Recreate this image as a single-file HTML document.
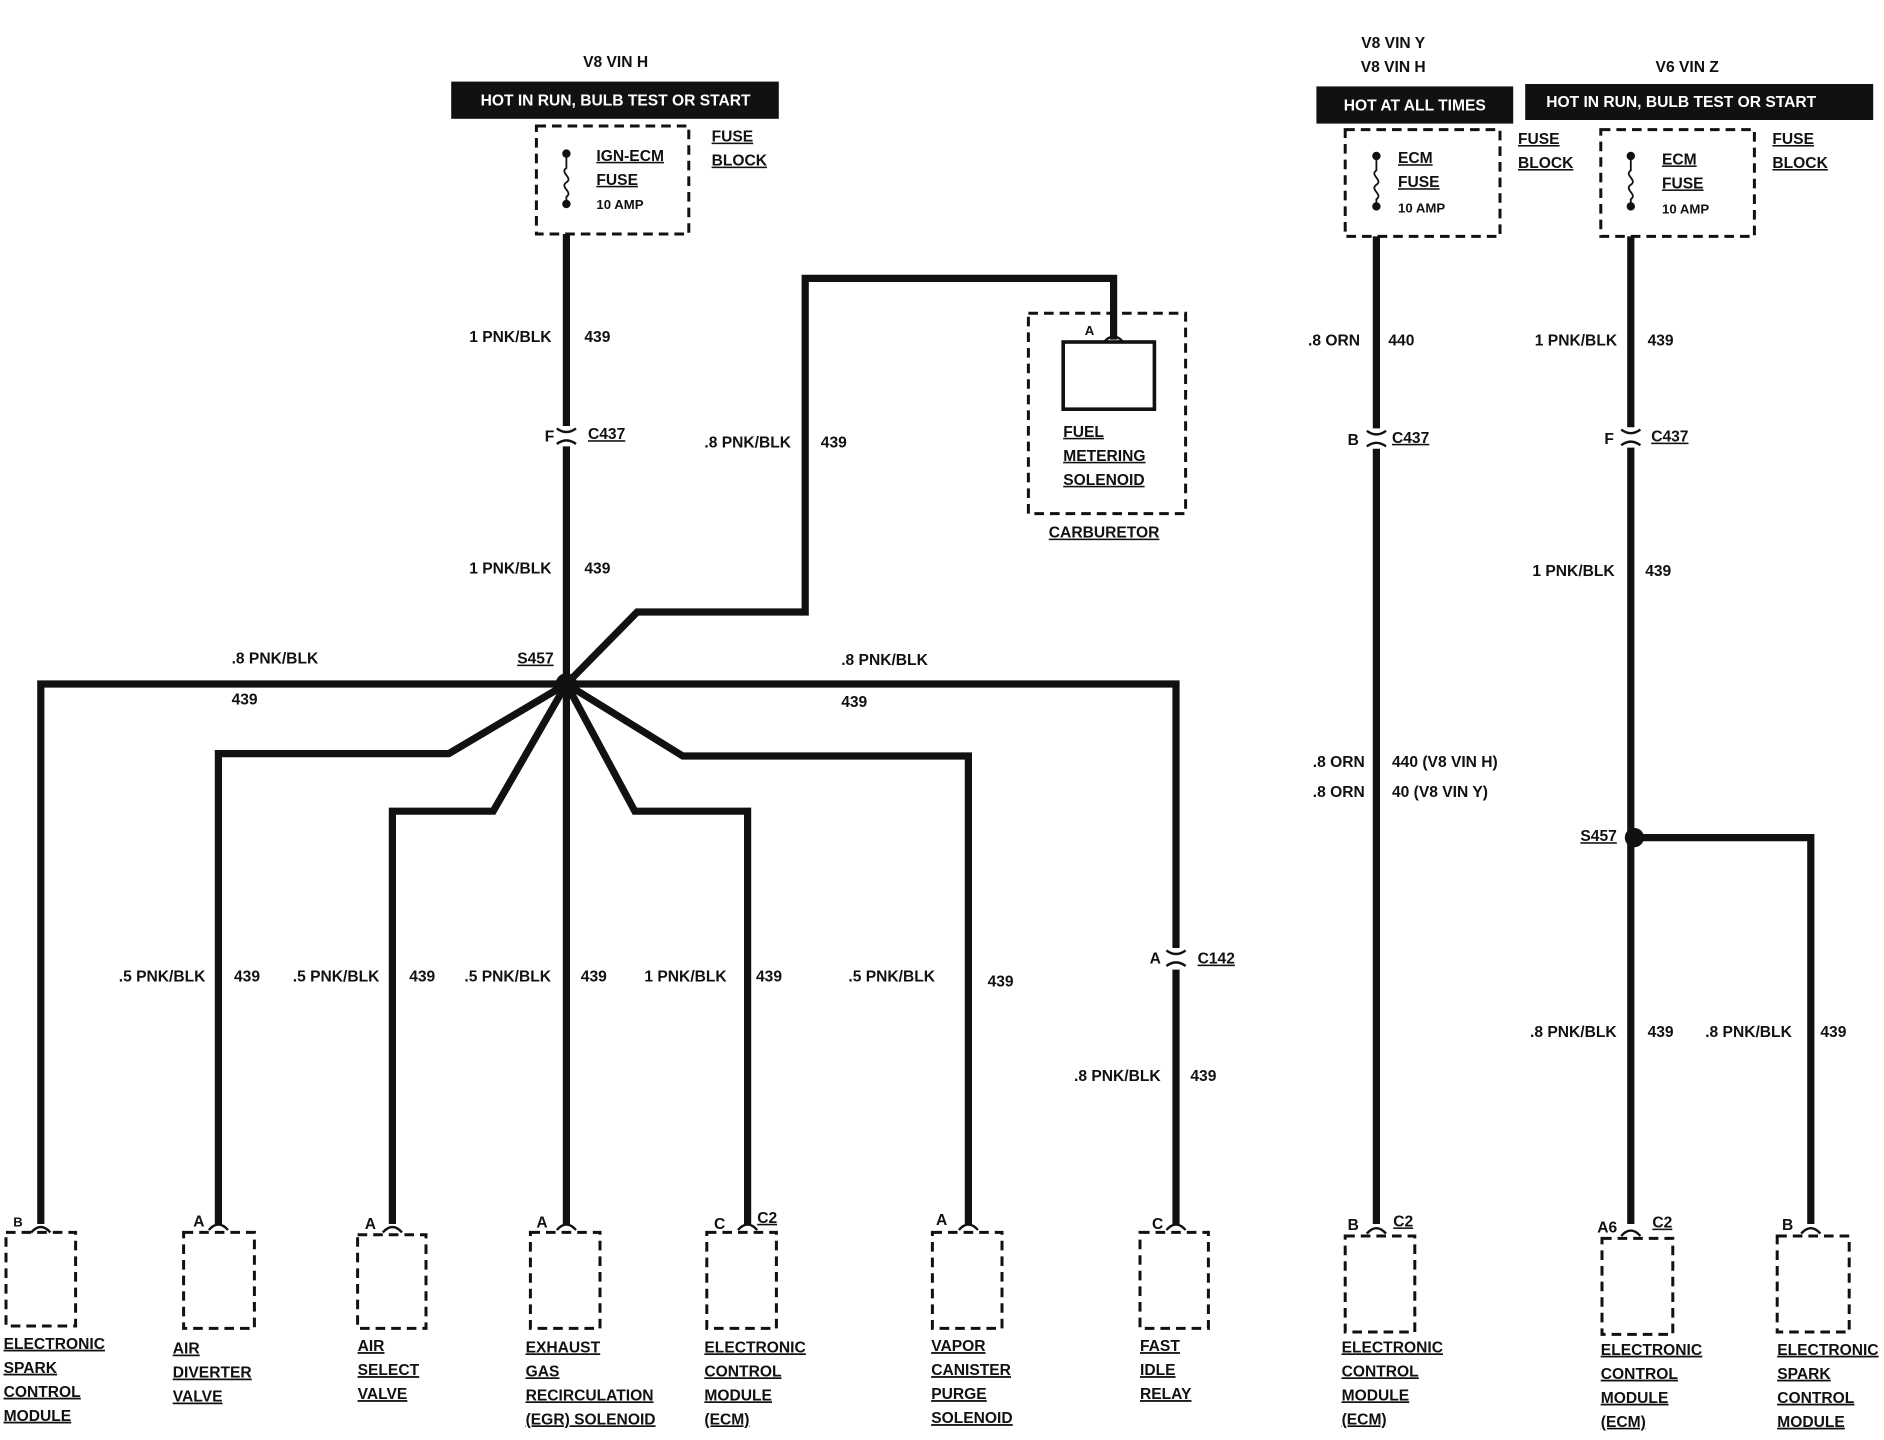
<!DOCTYPE html>
<html><head><meta charset="utf-8"><style>
html,body{margin:0;padding:0;background:#fff;}
svg{display:block}
text{font-family:"Liberation Sans",sans-serif;font-weight:bold;font-size:13px;fill:#111;}
.u{text-decoration:underline}
.w{fill:#fff;font-size:13px}
.s{font-size:11px}
</style></head><body>
<svg width="1884" height="1440" viewBox="0 0 1568 1200" xmlns="http://www.w3.org/2000/svg">
<g stroke="#111" fill="none">
<!-- dashed boxes -->
<g stroke-width="2.5" stroke-dasharray="8,5">
<rect x="446" y="105" width="127" height="90"/>
<rect x="1120" y="108" width="129" height="89"/>
<rect x="1333" y="108" width="128" height="89"/>
<rect x="856" y="261" width="131" height="167"/>
<rect x="4" y="1027" width="58" height="78"/>
<rect x="152" y="1027" width="59" height="80"/>
<rect x="297" y="1029" width="57" height="78"/>
<rect x="441" y="1027" width="58" height="80"/>
<rect x="588" y="1027" width="58" height="80"/>
<rect x="776" y="1027" width="58" height="80"/>
<rect x="949" y="1027" width="57" height="80"/>
<rect x="1120" y="1030" width="58" height="80"/>
<rect x="1334" y="1032" width="59" height="80"/>
<rect x="1480" y="1030" width="60" height="80"/>
</g>
<rect x="885" y="285" width="76" height="56" stroke-width="3"/>
<!-- fuses -->
<g stroke-width="1.5">
<path d="M471 128 v12 c-6 4 6 8 0 12 c-6 4 6 8 0 12 v6"/>
<path d="M1146 130 v12 c-6 4 6 8 0 12 c-6 4 6 8 0 12 v6"/>
<path d="M1358 130 v12 c-6 4 6 8 0 12 c-6 4 6 8 0 12 v6"/>
</g>
<!-- wires -->
<g stroke-width="6" stroke-linejoin="miter">
<path d="M471 195 V355 M471 372 V570"/>
<path d="M471 570 L530 510 H670 V232 H927 V283"/>
<path d="M471 570 H33 V1020"/>
<path d="M471 570 H979 V790 M979 808 V1020"/>
<path d="M471 570 L373 628 H181 V1020"/>
<path d="M471 570 L410 676 H326 V1020"/>
<path d="M471 570 V1020"/>
<path d="M471 570 L528 676 H622 V1020"/>
<path d="M471 570 L568 630 H806 V1020"/>
<path d="M1146 197 V357 M1146 374 V1020"/>
<path d="M1358 197 V356 M1358 373 V1020"/>
<path d="M1358 698 H1508 V1020"/>
</g>
<!-- connector symbols -->
<g stroke-width="2">
<path d="M463 357 q8 6 16 0 M463 370 q8 -6 16 0"/>
<path d="M1138 359 q8 6 16 0 M1138 372 q8 -6 16 0"/>
<path d="M1350 358 q8 6 16 0 M1350 371 q8 -6 16 0"/>
<path d="M971 792 q8 6 16 0 M971 805 q8 -6 16 0"/>
<path d="M25 1027 q8 -9 16 0 M173 1025 q8 -9 16 0 M318 1027 q8 -9 16 0 M463 1025 q8 -9 16 0 M614 1025 q8 -9 16 0 M798 1025 q8 -9 16 0 M971 1025 q8 -9 16 0 M1138 1028 q8 -9 16 0 M1350 1030 q8 -9 16 0 M1500 1028 q8 -9 16 0 M919 285 q8 -9 16 0"/>
</g>
</g>
<g fill="#111">
<circle cx="471" cy="570" r="9"/>
<circle cx="1361" cy="698" r="8"/>
<circle cx="471" cy="128" r="3.5"/><circle cx="471" cy="170" r="3.5"/>
<circle cx="1146" cy="130" r="3.5"/><circle cx="1146" cy="172" r="3.5"/>
<circle cx="1358" cy="130" r="3.5"/><circle cx="1358" cy="172" r="3.5"/>
<rect x="375" y="68" width="273" height="31"/>
<rect x="1096" y="72" width="164" height="31"/>
<rect x="1270" y="70" width="290" height="30"/>
</g>
<text x="512" y="56" text-anchor="middle">V8 VIN H</text>
<text x="512" y="88" text-anchor="middle" class="w">HOT IN RUN, BULB TEST OR START</text>
<text x="1160" y="40" text-anchor="middle">V8 VIN Y</text>
<text x="1160" y="60" text-anchor="middle">V8 VIN H</text>
<text x="1178" y="92" text-anchor="middle" class="w">HOT AT ALL TIMES</text>
<text x="1405" y="60" text-anchor="middle">V6 VIN Z</text>
<text x="1400" y="89" text-anchor="middle" class="w">HOT IN RUN, BULB TEST OR START</text>
<text x="496" y="134" class="u">IGN-ECM</text><text x="496" y="154" class="u">FUSE</text><text x="496" y="174" class="s">10 AMP</text>
<text x="592" y="118" class="u">FUSE</text><text x="592" y="138" class="u">BLOCK</text>
<text x="1164" y="136" class="u">ECM</text><text x="1164" y="156" class="u">FUSE</text><text x="1164" y="177" class="s">10 AMP</text>
<text x="1264" y="120" class="u">FUSE</text><text x="1264" y="140" class="u">BLOCK</text>
<text x="1384" y="137" class="u">ECM</text><text x="1384" y="157" class="u">FUSE</text><text x="1384" y="178" class="s">10 AMP</text>
<text x="1476" y="120" class="u">FUSE</text><text x="1476" y="140" class="u">BLOCK</text>
<text x="390" y="285">1 PNK/BLK</text><text x="486" y="285">439</text>
<text x="453" y="368">F</text><text x="489" y="366" class="u">C437</text>
<text x="390" y="478">1 PNK/BLK</text><text x="486" y="478">439</text>
<text x="586" y="373">.8 PNK/BLK</text><text x="683" y="373">439</text>
<text x="903" y="279" class="s">A</text>
<text x="885" y="364" class="u">FUEL</text><text x="885" y="384" class="u">METERING</text><text x="885" y="404" class="u">SOLENOID</text>
<text x="873" y="448" class="u">CARBURETOR</text>
<text x="430" y="553" class="u">S457</text>
<text x="192" y="553">.8 PNK/BLK</text><text x="192" y="587">439</text>
<text x="700" y="554">.8 PNK/BLK</text><text x="700" y="589">439</text>
<text x="98" y="818">.5 PNK/BLK</text><text x="194" y="818">439</text>
<text x="243" y="818">.5 PNK/BLK</text><text x="340" y="818">439</text>
<text x="386" y="818">.5 PNK/BLK</text><text x="483" y="818">439</text>
<text x="536" y="818">1 PNK/BLK</text><text x="629" y="818">439</text>
<text x="706" y="818">.5 PNK/BLK</text><text x="822" y="822">439</text>
<text x="957" y="803">A</text><text x="997" y="803" class="u">C142</text>
<text x="894" y="901">.8 PNK/BLK</text><text x="991" y="901">439</text>
<text x="1089" y="288">.8 ORN</text><text x="1156" y="288">440</text>
<text x="1122" y="371">B</text><text x="1159" y="369" class="u">C437</text>
<text x="1093" y="639">.8 ORN</text><text x="1159" y="639">440 (V8 VIN H)</text>
<text x="1093" y="664">.8 ORN</text><text x="1159" y="664">40 (V8 VIN Y)</text>
<text x="1278" y="288">1 PNK/BLK</text><text x="1372" y="288">439</text>
<text x="1336" y="370">F</text><text x="1375" y="368" class="u">C437</text>
<text x="1276" y="480">1 PNK/BLK</text><text x="1370" y="480">439</text>
<text x="1316" y="701" class="u">S457</text>
<text x="1274" y="864">.8 PNK/BLK</text><text x="1372" y="864">439</text>
<text x="1420" y="864">.8 PNK/BLK</text><text x="1516" y="864">439</text>
<text x="10" y="1022" class="s">B</text>
<text x="160" y="1022">A</text><text x="303" y="1024">A</text><text x="446" y="1023">A</text>
<text x="594" y="1024">C</text><text x="630" y="1019" class="u">C2</text>
<text x="779" y="1021">A</text><text x="959" y="1024">C</text>
<text x="1122" y="1025">B</text><text x="1160" y="1022" class="u">C2</text>
<text x="1330" y="1027">A6</text><text x="1376" y="1023" class="u">C2</text>
<text x="1484" y="1025">B</text>
<g class="u">
<text x="2" y="1124" class="u">ELECTRONIC</text><text x="2" y="1144" class="u">SPARK</text><text x="2" y="1164" class="u">CONTROL</text><text x="2" y="1184" class="u">MODULE</text>
<text x="143" y="1128" class="u">AIR</text><text x="143" y="1148" class="u">DIVERTER</text><text x="143" y="1168" class="u">VALVE</text>
<text x="297" y="1126" class="u">AIR</text><text x="297" y="1146" class="u">SELECT</text><text x="297" y="1166" class="u">VALVE</text>
<text x="437" y="1127" class="u">EXHAUST</text><text x="437" y="1147" class="u">GAS</text><text x="437" y="1167" class="u">RECIRCULATION</text><text x="437" y="1187" class="u">(EGR) SOLENOID</text>
<text x="586" y="1127" class="u">ELECTRONIC</text><text x="586" y="1147" class="u">CONTROL</text><text x="586" y="1167" class="u">MODULE</text><text x="586" y="1187">(ECM)</text>
<text x="775" y="1126" class="u">VAPOR</text><text x="775" y="1146" class="u">CANISTER</text><text x="775" y="1166" class="u">PURGE</text><text x="775" y="1186" class="u">SOLENOID</text>
<text x="949" y="1126" class="u">FAST</text><text x="949" y="1146" class="u">IDLE</text><text x="949" y="1166" class="u">RELAY</text>
<text x="1117" y="1127" class="u">ELECTRONIC</text><text x="1117" y="1147" class="u">CONTROL</text><text x="1117" y="1167" class="u">MODULE</text><text x="1117" y="1187">(ECM)</text>
<text x="1333" y="1129" class="u">ELECTRONIC</text><text x="1333" y="1149" class="u">CONTROL</text><text x="1333" y="1169" class="u">MODULE</text><text x="1333" y="1189">(ECM)</text>
<text x="1480" y="1129" class="u">ELECTRONIC</text><text x="1480" y="1149" class="u">SPARK</text><text x="1480" y="1169" class="u">CONTROL</text><text x="1480" y="1189" class="u">MODULE</text>
</g>
</svg>
</body></html>
